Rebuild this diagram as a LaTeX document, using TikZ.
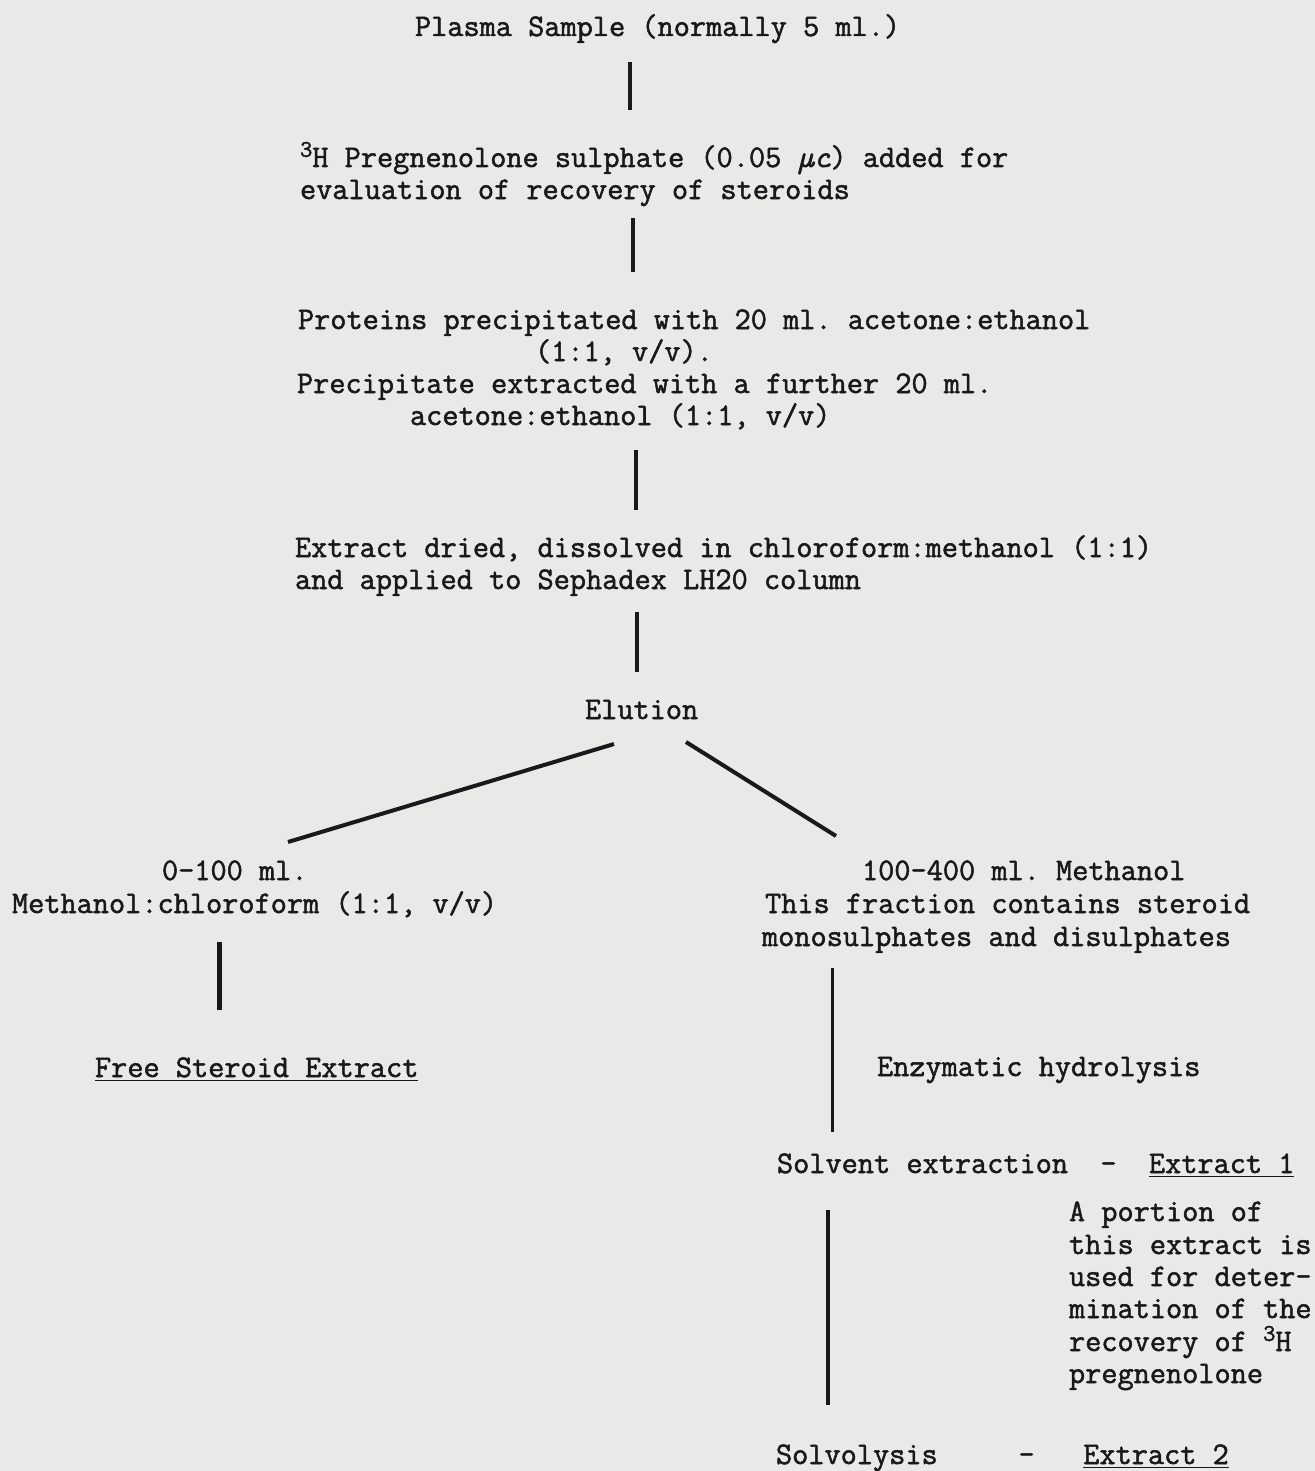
\documentclass[tikz,border=0pt]{standalone}
\usepackage{fontspec}
\newfontfamily\tw[FakeBold=1.6]{Latin Modern Mono}
\definecolor{paper}{RGB}{233,233,231}
\definecolor{ink}{RGB}{25,25,25}
\newcommand{\supthree}{\raisebox{0.75ex}{\fontsize{12pt}{12pt}\selectfont 3}}
\begin{document}
\begin{tikzpicture}[x=0.5pt,y=-0.5pt,
  txt/.style={anchor=base west,inner sep=0pt,outer sep=0pt,text=ink,font=\tw\fontsize{15.7pt}{16.5pt}\selectfont\frenchspacing},
  link/.style={draw=ink,line width=2pt},
  thinlink/.style={draw=ink,line width=1.5pt}]
\fill[paper] (0,0) rectangle (1315,1471);
\useasboundingbox (0,0) rectangle (1315,1471);
% texts
\node[txt] (plasma) at (415,36) {Plasma Sample (normally 5 ml.)};
\node[txt] (h3a) at (300,167) {\supthree H Pregnenolone sulphate (0.05 {\itshape µc}) added for};
\node[txt] (h3b) at (300,199) {evaluation of recovery of steroids};
\node[txt] (prot1) at (298,329) {Proteins precipitated with 20 ml. acetone:ethanol};
\node[txt] (prot2) at (535,361) {(1:1, v/v).};
\node[txt] (prot3) at (297,393) {Precipitate extracted with a further 20 ml.};
\node[txt] (prot4) at (410,425) {acetone:ethanol (1:1, v/v)};
\node[txt] (ext1) at (295,557) {Extract dried, dissolved in chloroform:methanol (1:1)};
\node[txt] (ext2) at (295,589) {and applied to Sephadex LH20 column};
\node[txt] (elution) at (585,719) {Elution};
\node[txt] (l1) at (162,880) {0-100 ml.};
\node[txt] (l2) at (12,913) {Methanol:chloroform (1:1, v/v)};
\node[txt] (free) at (95,1077) {\underline{Free Steroid Extract}};
\node[txt] (r1) at (862,880) {100-400 ml. Methanol};
\node[txt] (r2) at (765,913) {This fraction contains steroid};
\node[txt] (r3) at (762,946) {monosulphates and disulphates};
\node[txt] (enz) at (877,1076) {Enzymatic hydrolysis};
\node[txt] (solv) at (777,1173) {Solvent extraction~~-~~\underline{Extract 1}};
\node[txt] (p1) at (1069,1221) {A portion of};
\node[txt] (p2) at (1069,1254) {this extract is};
\node[txt] (p3) at (1069,1286) {used for deter-};
\node[txt] (p4) at (1069,1318) {mination of the};
\node[txt] (p5) at (1069,1351) {recovery of \supthree H};
\node[txt] (p6) at (1069,1383) {pregnenolone};
\node[txt] (solvo) at (776,1464) {Solvolysis~~~~~-~~~\underline{Extract 2}};
% connector ends
\coordinate (a1) at (630,62);  \coordinate (a2) at (630,110);
\coordinate (b1) at (633,218); \coordinate (b2) at (633,272);
\coordinate (c1) at (636,450); \coordinate (c2) at (636,510);
\coordinate (d1) at (637,612); \coordinate (d2) at (637,672);
\coordinate (e1) at (614,744); \coordinate (e2) at (288,842);
\coordinate (f1) at (686,742); \coordinate (f2) at (836,836);
\coordinate (g1) at (219,942); \coordinate (g2) at (219,1010);
\coordinate (h1) at (832,968); \coordinate (h2) at (832,1132);
\coordinate (i1) at (828,1210); \coordinate (i2) at (828,1405);
% connectors
\draw[link] (a1) -- (a2);
\draw[link] (b1) -- (b2);
\draw[link] (c1) -- (c2);
\draw[link] (d1) -- (d2);
\draw[link] (e1) -- (e2);
\draw[link] (f1) -- (f2);
\draw[link,line width=2.5pt] (g1) -- (g2);
\draw[thinlink] (h1) -- (h2);
\draw[thinlink,line width=1.8pt] (i1) -- (i2);
\end{tikzpicture}
\end{document}
